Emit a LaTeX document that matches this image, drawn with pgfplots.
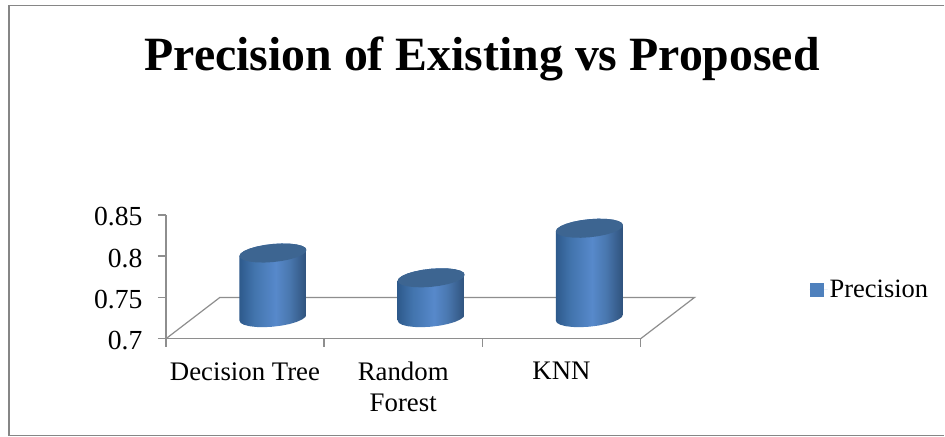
\documentclass[border=0pt]{standalone}
\usepackage{pgfplots}
\usepackage{pgfplotstable}
\usepackage{fontspec}
\setmainfont{Liberation Serif}
\pgfplotsset{compat=1.18}

\definecolor{framegray}{HTML}{868686}
\definecolor{axisgray}{HTML}{8E8E8E}
\definecolor{capblue}{HTML}{3D6591}
\definecolor{seriesblue}{HTML}{4F81BD}
\definecolor{edgeL}{HTML}{2E5A8C}
\definecolor{midL}{HTML}{4274AD}
\definecolor{peak}{HTML}{5789CB}
\definecolor{midR}{HTML}{4A78B0}
\definecolor{edgeR}{HTML}{2F527C}

% Horizontal shading of a cylinder wall (25bp to 75bp spans the path)
\pgfdeclarehorizontalshading{cylwall}{100bp}{
  color(0bp)=(edgeL); color(25bp)=(edgeL); color(36bp)=(midL);
  color(52bp)=(peak); color(62bp)=(midR); color(75bp)=(edgeR); color(100bp)=(edgeR)}

% Outline of a tilted cylinder, in points from its centre line.
% lev = 0: lower half of the base; lev = 1: upper half of the top.
\pgfplotstableread{
dx     dy     lev
-33.5  -3.00  0
-32.4  -5.23  0
-29.0  -7.10  0
-23.7  -8.48  0
-16.75 -9.29  0
-8.67  -9.47  0
0      -9.00  0
8.67   -7.91  0
16.75  -6.29  0
23.7   -4.24  0
29.0   -1.90  0
32.4    0.57  0
33.5    3.00  0
33.5    3.00  1
32.4    5.23  1
29.0    7.10  1
23.7    8.48  1
16.75   9.29  1
8.67    9.47  1
0       9.00  1
-8.67   7.91  1
-16.75  6.29  1
-23.7   4.24  1
-29.0   1.90  1
-32.4  -0.57  1
-33.5  -3.00  1
}\cylshape

% Whole top ellipse of a cylinder
\pgfplotstableread{
dx     dy
-33.5  -3.00
-32.4  -5.23
-29.0  -7.10
-23.7  -8.48
-16.75 -9.29
-8.67  -9.47
0      -9.00
8.67   -7.91
16.75  -6.29
23.7   -4.24
29.0   -1.90
32.4    0.57
33.5    3.00
32.4    5.23
29.0    7.10
23.7    8.48
16.75   9.29
8.67    9.47
0       9.00
-8.67   7.91
-16.75  6.29
-23.7   4.24
-29.0   1.90
-32.4  -0.57
-33.5  -3.00
}\capshape

% #1 category position, #2 precision value
\newcommand{\cylinder}[2]{%
  \addplot[forget plot, draw=none, shade, shading=cylwall] table[
    x expr={#1+0.5+0.1768+\thisrow{dx}/158.33},
    y expr={(1-\thisrow{lev})*0.7256+\thisrow{lev}*(#2+0.0238)+\thisrow{dy}*0.0012195}
  ] {\cylshape} -- cycle;
  \addplot[forget plot, draw=none, fill=capblue] table[
    x expr={#1+0.5+0.1768+\thisrow{dx}/158.33},
    y expr={#2+0.0238+\thisrow{dy}*0.0012195}
  ] {\capshape} -- cycle;
}

\begin{document}
\begin{tikzpicture}[x=1pt,y=1pt]
  \path[fill=white] (0,0) rectangle (945,437);
  % Chart frame: open on the right, where it runs off the page
  \draw[framegray, line width=1.3pt] (945,431.5) -- (9,431.5) -- (9,1.5) -- (945,1.5);
  \node[font=\fontsize{47.8}{48}\selectfont\bfseries, anchor=base] at (482.5,366) {Precision of Existing vs Proposed};

  \begin{axis}[
    at={(166pt,98pt)}, anchor=south west,
    scale only axis, width=475pt, height=124pt,
    xmin=0, xmax=3, ymin=0.7, ymax=0.85,
    clip=false,
    axis x line=bottom, axis y line=left,
    axis line style={axisgray, line width=1.4pt, -},
    xtick={0.5,1.5,2.5},
    xticklabels={Decision Tree,Random\\Forest,KNN},
    minor xtick={0,1,2,3},
    ytick={0.7,0.75,0.8,0.85},
    yticklabels={0.7,0.75,0.8,0.85},
    major x tick style={draw=none},
    major y tick style={axisgray, line width=1.4pt},
    minor x tick style={axisgray, line width=1.4pt},
    tick align=outside,
    major tick length=8pt,
    minor tick length=8pt,
    xticklabel style={font=\fontsize{26.8}{31}\selectfont, align=center, yshift=-12pt, anchor=north},
    yticklabel style={font=\fontsize{27.6}{28}\selectfont, xshift=-12pt, yshift=-2pt},
    legend style={at={(810pt-166pt,49pt)}, anchor=west, draw=none, fill=none,
      font=\fontsize{26.5}{26.5}\selectfont, inner sep=0pt, row sep=0pt},
    legend cell align=left,
  ]
    % Floor of the plot box
    \addplot[forget plot, axisgray, line width=1.2pt] coordinates
      {(0,0.7) (0.341,0.75) (3.341,0.75) (3,0.7)};

    \cylinder{0}{0.78}
    \cylinder{1}{0.75}
    \cylinder{2}{0.81}

    \addlegendimage{area legend, draw=none, fill=seriesblue,
      legend image code/.code={\fill[seriesblue] (0pt,-7pt) rectangle (14pt,7pt); \path (0pt,0pt) -- (18pt,0pt);}}
    \addlegendentry{Precision}
  \end{axis}
\end{tikzpicture}
\end{document}
